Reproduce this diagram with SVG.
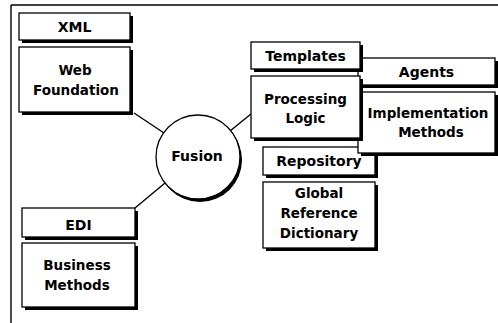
<svg xmlns="http://www.w3.org/2000/svg" width="498" height="323" viewBox="0 0 498 323">
<style>
.sh{fill:#000}
.bx{fill:#fff;stroke:#000;stroke-width:1.3}
.t{font-family:"DejaVu Sans","Liberation Sans",sans-serif;font-weight:bold;fill:#000;text-anchor:middle}
.h{font-size:14px}
.b{font-size:13.5px}
.ln{stroke:#000;stroke-width:1.4;fill:none}
</style>
<rect width="498" height="323" fill="#fff"/>
<g id="frame">
<path class="ln" d="M11,5 H498 M11,5 V323"/>
</g>
<g id="connectors">
<line class="ln" x1="134" y1="113" x2="164" y2="133"/>
<line class="ln" x1="251" y1="114" x2="230" y2="131"/>
<line class="ln" x1="135" y1="208" x2="165" y2="183"/>
</g>
<g id="xml">
<rect class="sh" x="22" y="16" width="111" height="27"/>
<rect class="bx" x="19" y="13" width="111" height="27"/>
<text class="t h" x="74.5" y="32">XML</text>
<rect class="sh" x="22" y="50" width="111" height="65"/>
<rect class="bx" x="19" y="47" width="111" height="65"/>
<text class="t b" x="75" y="75">Web</text>
<text class="t b" x="76" y="95">Foundation</text>
</g>
<g id="edi">
<rect class="sh" x="25" y="211" width="113" height="29"/>
<rect class="bx" x="22" y="208" width="113" height="29"/>
<text class="t h" x="78.5" y="230">EDI</text>
<rect class="sh" x="25" y="246" width="113" height="64"/>
<rect class="bx" x="22" y="243" width="113" height="64"/>
<text class="t b" x="77" y="270">Business</text>
<text class="t b" x="77" y="290">Methods</text>
</g>
<g id="fusion">
<circle class="sh" cx="200" cy="160" r="42"/>
<circle class="bx" cx="198" cy="157" r="42"/>
<text class="t h" x="197" y="161">Fusion</text>
</g>
<g id="repository">
<rect class="sh" x="266" y="150" width="112" height="28"/>
<rect class="bx" x="263" y="147" width="112" height="28"/>
<text class="t h" x="319" y="166">Repository</text>
<rect class="sh" x="266" y="185" width="112" height="66"/>
<rect class="bx" x="263" y="182" width="112" height="66"/>
<text class="t b" x="319" y="198">Global</text>
<text class="t b" x="319" y="218">Reference</text>
<text class="t b" x="319" y="238">Dictionary</text>
</g>
<g id="agents">
<rect class="sh" x="361" y="61" width="137" height="27"/>
<rect class="bx" x="358" y="58" width="137" height="27"/>
<text class="t h" x="426.5" y="77">Agents</text>
<rect class="sh" x="361" y="95" width="137" height="61"/>
<rect class="bx" x="358" y="92" width="137" height="61"/>
<text class="t b" x="428" y="118">Implementation</text>
<text class="t b" x="431" y="137">Methods</text>
</g>
<g id="templates">
<rect class="sh" x="254" y="45" width="109" height="27"/>
<rect class="bx" x="251" y="42" width="109" height="27"/>
<text class="t h" x="305.5" y="61">Templates</text>
<rect class="sh" x="254" y="79" width="109" height="62"/>
<rect class="bx" x="251" y="76" width="109" height="62"/>
<text class="t b" x="305.5" y="104">Processing</text>
<text class="t b" x="305.5" y="123">Logic</text>
</g>
</svg>
